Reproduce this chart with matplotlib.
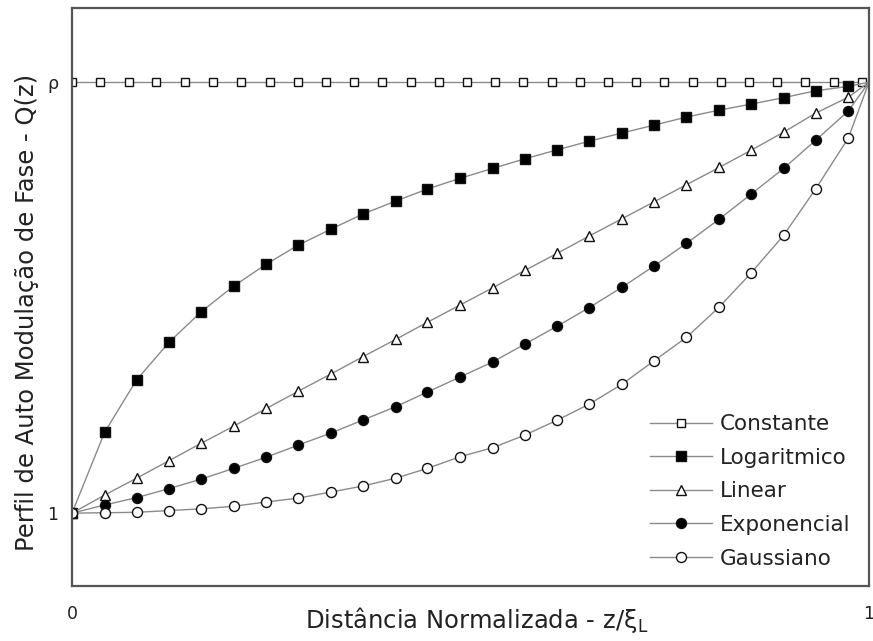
import matplotlib
matplotlib.use('Agg')
from matplotlib import pyplot as plt

# normalized distance z/xi_L (marker positions)
x_pts = [0.000, 0.041, 0.081, 0.122, 0.162, 0.203, 0.244, 0.284, 0.325, 0.365,
         0.406, 0.446, 0.487, 0.528, 0.568, 0.609, 0.649, 0.690, 0.730, 0.771,
         0.812, 0.852, 0.893, 0.933, 0.974, 1.000]
x_const = [0.000, 0.035, 0.071, 0.106, 0.142, 0.177, 0.212, 0.248, 0.283, 0.319,
           0.354, 0.389, 0.425, 0.460, 0.496, 0.531, 0.566, 0.602, 0.637, 0.673,
           0.708, 0.743, 0.779, 0.814, 0.850, 0.885, 0.920, 0.956, 0.991, 1.000]

# profile values, 0 -> "1", 1 -> "rho"
q_const = [1.0] * len(x_const)
q_log = [0.000, 0.188, 0.309, 0.397, 0.467, 0.527, 0.578, 0.622, 0.659, 0.694,
         0.724, 0.752, 0.777, 0.800, 0.822, 0.843, 0.863, 0.882, 0.900, 0.919,
         0.935, 0.949, 0.964, 0.980, 0.990, 1.000]
q_lin = [0.000, 0.042, 0.081, 0.122, 0.162, 0.202, 0.243, 0.283, 0.323, 0.363,
         0.403, 0.443, 0.483, 0.523, 0.563, 0.603, 0.643, 0.683, 0.722, 0.762,
         0.802, 0.842, 0.884, 0.928, 0.965, 1.000]
q_exp = [0.000, 0.019, 0.036, 0.057, 0.079, 0.104, 0.130, 0.158, 0.186, 0.216,
         0.247, 0.281, 0.316, 0.351, 0.392, 0.434, 0.477, 0.524, 0.573, 0.626,
         0.682, 0.740, 0.800, 0.865, 0.933, 1.000]
q_gauss = [0.000, 0.001, 0.002, 0.006, 0.010, 0.016, 0.026, 0.035, 0.049, 0.063,
           0.081, 0.104, 0.131, 0.152, 0.181, 0.216, 0.253, 0.299, 0.353, 0.408,
           0.478, 0.557, 0.645, 0.752, 0.870, 1.000]

labels = ['Constante', 'Logaritmico', 'Linear', 'Exponencial', 'Gaussiano']

plt.rcParams['font.family'] = ['DejaVu Sans']
plt.rcParams['mathtext.fontset'] = 'dejavusans'

fig = plt.figure(figsize=(8.73, 6.41), dpi=100)
ax = fig.add_axes([72 / 873, 1 - 586 / 641, 797 / 873, 578 / 641])

line_kw = dict(color='#8a8a8a', lw=1.0, markeredgecolor='#111111',
               markeredgewidth=1.0, markevery=slice(0, -1))

ax.plot(x_const, q_const, marker='s', ms=5.8, markerfacecolor='white', label=labels[0], **line_kw)
ax.plot(x_pts, q_log, marker='s', ms=7.0, markerfacecolor='black', label=labels[1], **line_kw)
ax.plot(x_pts, q_lin, marker='^', ms=7.5, markerfacecolor='white', label=labels[2], **line_kw)
ax.plot(x_pts, q_exp, marker='o', ms=7.2, markerfacecolor='black', label=labels[3], **line_kw)
ax.plot(x_pts, q_gauss, marker='o', ms=7.2, markerfacecolor='white', label=labels[4], **line_kw)

ax.set_xlim(0, 1)
ax.set_ylim(-0.169, 1.172)
ax.set_xticks([0, 1])
ax.set_xticklabels(['0', '1'])
ax.set_yticks([0, 1])
ax.set_yticklabels(['1', 'ρ'])
ax.tick_params(length=0, labelsize=12.5, labelcolor='#222222')
ax.tick_params(axis='x', pad=14)
ax.tick_params(axis='y', pad=10)

for sp in ax.spines.values():
    sp.set_color('#555555')
    sp.set_linewidth(1.6)

ax.set_xlabel(r'Distância Normalizada - z/$\mathrm{\xi}_\mathrm{L}$', fontsize=17.5, color='#222222')
ax.xaxis.set_label_coords(0.508, -0.033)
ax.set_ylabel('Perfil de Auto Modulação de Fase - Q(z)', fontsize=17.5, color='#222222')
ax.yaxis.set_label_coords(-0.042, 0.474)

ax.legend(loc='upper left', bbox_to_anchor=(0.725, 0.297), frameon=False,
          fontsize=15.5, handlelength=2.9, handletextpad=0.35,
          labelspacing=0.63, borderpad=0, borderaxespad=0, labelcolor='#222222')

fig.savefig('out.png', dpi=100)
